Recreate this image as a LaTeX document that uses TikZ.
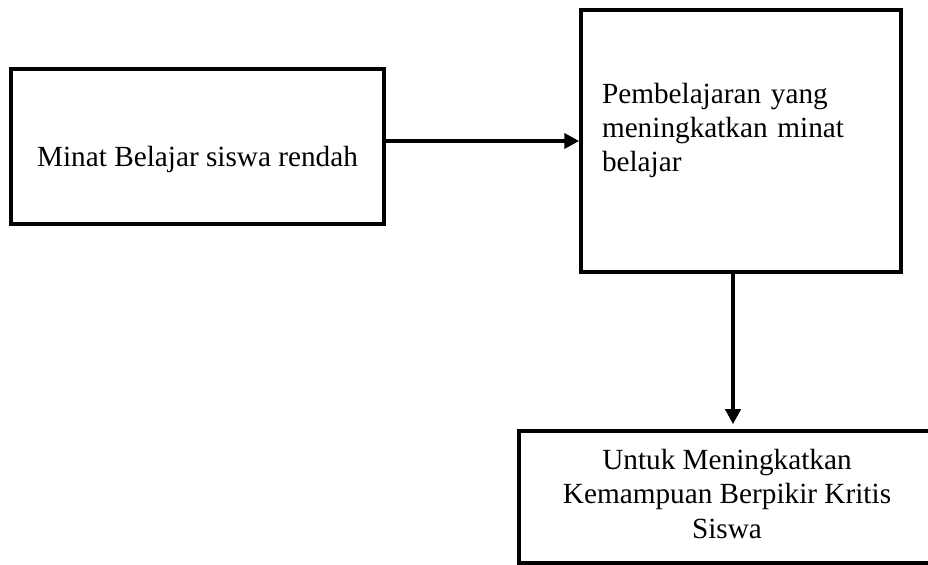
\documentclass[tikz,border=0pt]{standalone}
\usepackage{fontspec}
\setmainfont{Liberation Serif}
\usetikzlibrary{arrows.meta,positioning}

\tikzset{
	kotak/.style={draw, line width=1.4pt, inner sep=0pt, font=\fontsize{11.7}{13.7}\selectfont},
	panah/.style={line width=1.5pt, -{Triangle[length=6pt,width=6pt]}}
}

\begin{document}
\begin{tikzpicture}[x=0.4pt, y=-0.4pt]
		\useasboundingbox (0, 0) rectangle (928, 565);
		\node[kotak, minimum width=149.2pt, minimum height=62pt, text height=18.9pt, text depth=2.5pt] (minat) at (197.5, 146.5) {Minat Belajar siswa rendah};
		\node[kotak, minimum width=128pt, minimum height=104.8pt, text width=111.2pt, align=left, text depth=38.3pt] (pembelajaran) at (741, 141) {Pembelajaran yang\\ meningkatkan minat\\ belajar};
		\node[kotak, minimum width=176pt, minimum height=52.8pt] (berpikir) at (739, 497) {\begin{tabular}{@{}c@{}}Untuk Meningkatkan\\ Kemampuan Berpikir Kritis\\ Siswa\end{tabular}\hspace*{9.6pt}};
		\draw[panah] (minat.east |- pembelajaran.west) -- (pembelajaran.west);
		\draw[panah, shorten >=2pt] ([xshift=-3.2pt]pembelajaran.south) -- ([xshift=-3.2pt]pembelajaran.south |- berpikir.north);
	\end{tikzpicture}
\end{document}
